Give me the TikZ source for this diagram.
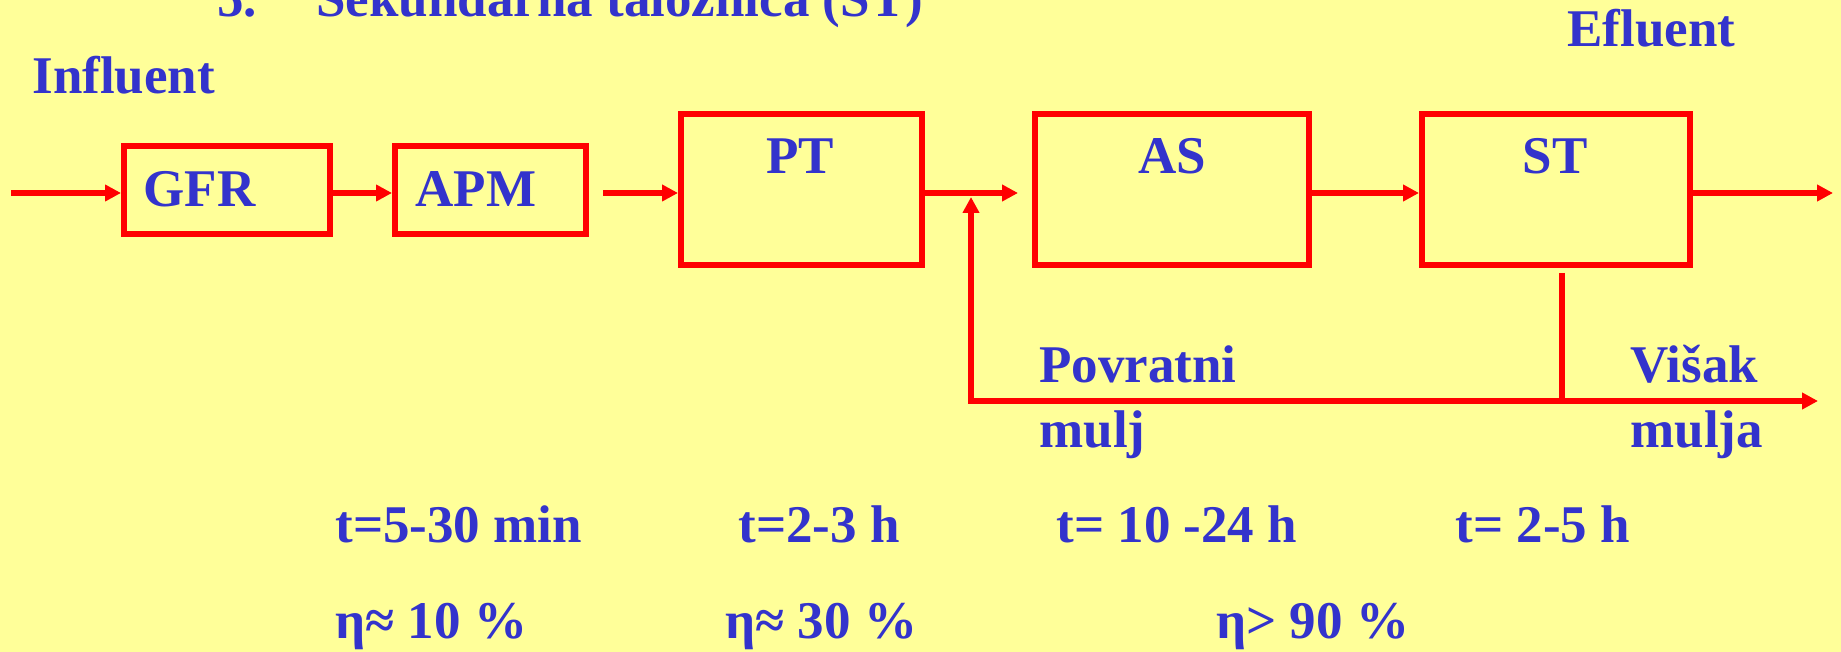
\documentclass[tikz,border=0pt]{standalone}
\usepackage{fontspec}
\setmainfont{Liberation Serif}
\usetikzlibrary{arrows.meta}
\definecolor{bgY}{RGB}{255,255,153}
\definecolor{boxR}{RGB}{255,0,0}
\definecolor{txtB}{RGB}{51,51,204}
\begin{document}
\begin{tikzpicture}[x=0.5pt,y=-0.5pt,
  lbl/.style={text=txtB, font=\fontsize{26.5}{32}\selectfont\bfseries, inner sep=0pt, anchor=base west},
  clbl/.style={lbl, anchor=base},
  proc/.style={draw=boxR, line width=3pt, inner sep=0pt},
  flow/.style={draw=boxR, line width=3pt, -{Triangle[length=8pt,width=8pt]}},
  pipe/.style={draw=boxR, line width=3pt}]
\fill[bgY] (0,0) rectangle (1841,652);
\useasboundingbox (0,0) rectangle (1841,652);
\begin{scope}
\clip (0,0) rectangle (1841,652);
\node[lbl] (tnum) at (217,16.5) {5.};
\node[lbl] (title) at (316,16.5) {Sekundarna taložnica (ST)};
\end{scope}
% boxes
\node[proc, minimum width=103pt, minimum height=44pt] (gfr) at (227,190) {};
\node[proc, minimum width=95.5pt, minimum height=44pt] (apm) at (490.5,190) {};
\node[proc, minimum width=120.5pt, minimum height=75.5pt] (pt) at (801.5,189.5) {};
\node[proc, minimum width=137pt, minimum height=75.5pt] (as) at (1172,189.5) {};
\node[proc, minimum width=134pt, minimum height=75.5pt] (st) at (1556,189.5) {};
% box labels
\node[lbl] (gfrl) at (143,207) {GFR};
\node[lbl] (apml) at (415,207) {APM};
\node[clbl] (ptl) at (800,174) {PT};
\node[clbl] (asl) at (1172,174) {AS};
\node[clbl] (stl) at (1555,174) {ST};
% coordinates
\coordinate (in) at (11,193);
\coordinate (pin) at (603,193);
\coordinate (mix) at (1018,193);
\coordinate (out) at (1833,193);
\coordinate (tap) at (1562,273);
\coordinate (junc) at (1562,401);
\coordinate (corner) at (971,401);
\coordinate (rettip) at (971,197);
\coordinate (waste) at (1818,401);
% connectors
\draw[flow] (in) -- (gfr.west |- in);
\draw[flow] (gfr.east |- in) -- (apm.west |- in);
\draw[flow] (pin) -- (pt.west |- pin);
\draw[flow] (pt.east |- mix) -- (mix);
\draw[flow] (as.east |- in) -- (st.west |- in);
\draw[flow] (st.east |- out) -- (out);
\draw[pipe] (tap) -- (junc);
\draw[draw=boxR, line width=3pt, {Triangle[length=8pt,width=8pt]}-{Triangle[length=8pt,width=8pt]}, line join=miter] (rettip) -- (corner) -- (waste);
% labels
\node[lbl] (influent) at (32,94) {Influent};
\node[lbl] (efluent) at (1567,46.5) {Efluent};
\node[lbl] (povr) at (1039,382) {Povratni};
\node[lbl] (mulj) at (1039,447) {mulj};
\node[lbl] (visak) at (1630,382) {Višak};
\node[lbl] (mulja) at (1630,447) {mulja};
\node[lbl] (t1) at (335,542) {t=5-30 min};
\node[lbl] (t2) at (738,542) {t=2-3 h};
\node[lbl] (t3) at (1056,542) {t= 10 -24 h};
\node[lbl] (t4) at (1455,542) {t= 2-5 h};
\node[lbl] (e1) at (335,638) {η≈ 10 \%};
\node[lbl] (e2) at (725,638) {η≈ 30 \%};
\node[lbl] (e3) at (1216,638) {η> 90 \%};
\end{tikzpicture}
\end{document}
